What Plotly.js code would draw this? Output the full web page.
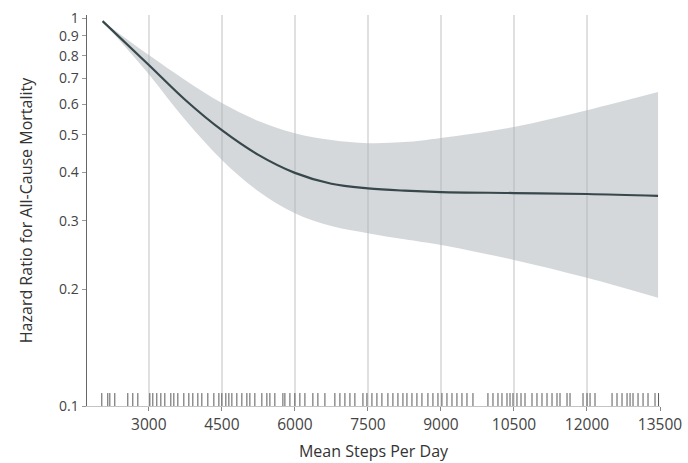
<!DOCTYPE html>
<html>
<head>
<meta charset="utf-8">
<script src="https://cdn.plot.ly/plotly-3.0.1.min.js"></script>
<style>html,body{margin:0;padding:0;background:#fff;}#chart{width:688px;height:463px;}</style>
</head>
<body>
<div id="chart"></div>
<script>
// Mean steps per day at which the curve and band are read
const steps = [2050, 3000, 3750, 4500, 5250, 6000, 6750, 7500, 8250, 9000, 10500, 12000, 13460];
// Hazard ratio estimate
const hazardRatio = [0.982, 0.757, 0.615, 0.514, 0.444, 0.399, 0.374, 0.364, 0.359, 0.356, 0.354, 0.352, 0.348];
// 95% confidence band
const upperCI = [0.982, 0.803, 0.692, 0.604, 0.543, 0.505, 0.485, 0.476, 0.479, 0.491, 0.524, 0.579, 0.645];
const lowerCI = [0.982, 0.717, 0.546, 0.431, 0.358, 0.314, 0.291, 0.279, 0.269, 0.260, 0.238, 0.214, 0.190];
// Rug: individual participant mean step counts
const rugSteps = [2034, 2157, 2199, 2301, 2568, 2671, 2774, 3021, 3082, 3164, 3247, 3329, 3452, 3514, 3596, 3719,
  3822, 3904, 4007, 4089, 4212, 4336, 4439, 4500, 4582, 4644, 4706, 4808, 4911, 5014, 5076, 5178, 5322, 5425,
  5487, 5589, 5754, 5795, 5898, 6000, 6103, 6206, 6370, 6473, 6617, 6822, 6925, 7028, 7131, 7233, 7398, 7480,
  7583, 7685, 7788, 7911, 8014, 8117, 8220, 8302, 8405, 8507, 8610, 8733, 8836, 8939, 9021, 9124, 9227, 9329,
  9432, 9535, 9658, 9966, 10069, 10172, 10254, 10357, 10419, 10480, 10562, 10645, 10727, 10871, 10973, 11076,
  11179, 11282, 11384, 11446, 11590, 11652, 11919, 12001, 12063, 12165, 12515, 12617, 12720, 12823, 12885,
  12946, 13049, 13152, 13254, 13398, 13470];
const rugLevel = 0.1036;
const xTicks = [3000, 4500, 6000, 7500, 9000, 10500, 12000, 13500];
const xTickText = ['3000', '4500', '6000', '7500', '9000', '10500', '12000', '13500'];
const yTicks = [0.1, 0.2, 0.3, 0.4, 0.5, 0.6, 0.7, 0.8, 0.9, 1];
const yTickText = ['0.1', '0.2', '0.3', '0.4', '0.5', '0.6', '0.7', '0.8', '0.9', '1'];

const font = 'Open Sans, Noto Sans, sans-serif';
const traces = [
  {x: steps, y: lowerCI, mode: 'lines', line: {width: 0, shape: 'spline'}, hoverinfo: 'skip', showlegend: false},
  {x: steps, y: upperCI, mode: 'lines', fill: 'tonexty', fillcolor: 'rgba(170,177,182,0.5)',
   line: {width: 0, shape: 'spline'}, hoverinfo: 'skip', showlegend: false},
  {x: steps, y: hazardRatio, mode: 'lines', line: {color: '#37474c', width: 2.2, shape: 'spline'}, showlegend: false},
  {x: rugSteps, y: rugSteps.map(() => rugLevel), mode: 'markers',
   marker: {symbol: 'line-ns-open', size: 10, color: 'rgba(60,60,60,0.85)', line: {color: 'rgba(60,60,60,0.85)', width: 1}},
   showlegend: false}
];
const layout = {
  width: 688, height: 463,
  margin: {l: 87, r: 28, t: 15, b: 57},
  paper_bgcolor: '#fff', plot_bgcolor: '#fff',
  font: {family: font, size: 14, color: '#444'},
  xaxis: {
    range: [1730, 13500], tickvals: xTicks, ticktext: xTickText,
    tickfont: {family: font, size: 15.5, color: '#444'},
    showgrid: true, gridcolor: '#e0e0e0', gridwidth: 1.5,
    showline: true, linecolor: '#c4c4c4', linewidth: 1,
    ticks: 'outside', ticklen: 4, tickcolor: '#888',
    zeroline: false,
    title: {text: 'Mean Steps Per Day', font: {family: font, size: 16, color: '#333'}, standoff: 12}
  },
  yaxis: {
    type: 'log', range: [-1, 0.008], tickvals: yTicks, ticktext: yTickText,
    tickfont: {family: font, size: 14, color: '#444'},
    showgrid: false, showline: true, linecolor: '#666', linewidth: 1.5,
    ticks: 'outside', ticklen: 4, tickcolor: '#999',
    zeroline: false,
    title: {text: 'Hazard Ratio for All-Cause Mortality', font: {family: font, size: 16, color: '#333'}, standoff: 22}
  }
};
Plotly.newPlot('chart', traces, layout, {displayModeBar: false, staticPlot: true});
</script>
</body>
</html>
